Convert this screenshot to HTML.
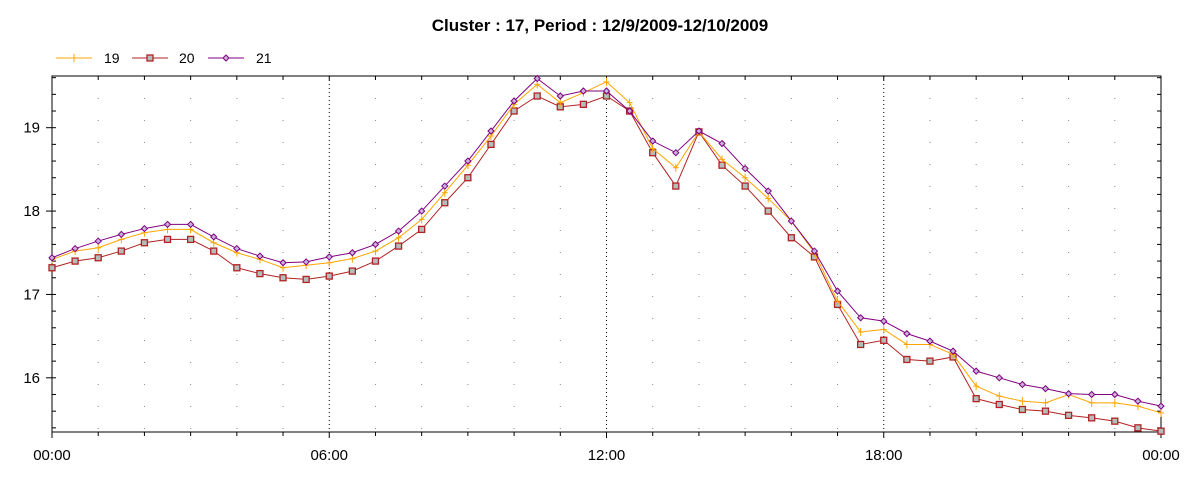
<!DOCTYPE html>
<html><head><meta charset="utf-8"><style>
body{margin:0;background:#fff;font-family:"Liberation Sans",Arial,sans-serif}
svg text{font-family:"Liberation Sans",Arial,sans-serif}
</style></head><body>
<svg id="chart" width="1200" height="480" xmlns="http://www.w3.org/2000/svg">
<text x="600" y="31" text-anchor="middle" font-size="17" font-weight="bold" fill="#000">Cluster : 17, Period : 12/9/2009-12/10/2009</text>
<g id="grid"></g>
<g id="axes"></g>
<g id="series"></g>
<g id="legend"></g>
</svg>
<script>
const hours = [0,0.5,1,1.5,2,2.5,3,3.5,4,4.5,5,5.5,6,6.5,7,7.5,8,8.5,9,9.5,10,10.5,11,11.5,12,12.5,13,13.5,14,14.5,15,15.5,16,16.5,17,17.5,18,18.5,19,19.5,20,20.5,21,21.5,22,22.5,23,23.5,24];
const s19 = [17.42,17.52,17.56,17.66,17.74,17.78,17.78,17.62,17.50,17.42,17.32,17.35,17.38,17.43,17.52,17.68,17.90,18.22,18.55,18.90,19.28,19.52,19.30,19.42,19.55,19.30,18.75,18.52,18.95,18.62,18.40,18.15,17.88,17.50,16.92,16.55,16.58,16.40,16.40,16.28,15.90,15.78,15.72,15.70,15.80,15.70,15.70,15.66,15.58];
const s20 = [17.32,17.40,17.44,17.52,17.62,17.66,17.66,17.52,17.32,17.25,17.20,17.18,17.22,17.28,17.40,17.58,17.78,18.10,18.40,18.80,19.20,19.38,19.25,19.28,19.38,19.20,18.70,18.30,18.95,18.55,18.30,18.00,17.68,17.45,16.88,16.40,16.45,16.22,16.20,16.25,15.75,15.68,15.62,15.60,15.55,15.52,15.48,15.40,15.36];
const s21 = [17.44,17.55,17.64,17.72,17.79,17.84,17.84,17.69,17.55,17.46,17.38,17.39,17.45,17.50,17.60,17.76,18.00,18.30,18.60,18.96,19.32,19.59,19.38,19.44,19.44,19.20,18.84,18.70,18.96,18.81,18.51,18.24,17.88,17.52,17.04,16.72,16.68,16.53,16.44,16.32,16.08,16.00,15.92,15.87,15.81,15.80,15.80,15.72,15.66];
const yTicks = [16,17,18,19];
const xTickLabels = ["00:00","06:00","12:00","18:00","00:00"];
const seriesNames = ["19","20","21"];

const NS="http://www.w3.org/2000/svg";
const L=52,R=1161,T=76,B=432, YMIN=15.35, YMAX=19.62;
const xs=h=>L+(R-L)*h/24;
const ys=v=>B-(B-T)*(v-YMIN)/(YMAX-YMIN);
function mk(tag,attrs,parent){const e=document.createElementNS(NS,tag);for(const k in attrs)e.setAttribute(k,attrs[k]);parent.appendChild(e);return e;}
const grid=document.getElementById('grid'),axes=document.getElementById('axes'),ser=document.getElementById('series'),leg=document.getElementById('legend');
for(let h=1;h<24;h++){
  const major=h%6===0;
  const g=mk('line',{x1:xs(h),x2:xs(h),y1:T,y2:B,stroke:major?'#000':'#888','stroke-dasharray':major?'1,3':'1,21'},grid);
  
  
}
const frame=mk('rect',{x:L,y:T,width:R-L,height:B-T,fill:'none',stroke:'#000','stroke-width':1},axes);


for(let v=15.4;v<=19.6;v+=0.2){
  const y=ys(v);const major=Math.abs(v-Math.round(v))<0.01;
  mk('line',{x1:major?L-6:L,x2:L+4,y1:y,y2:y,stroke:'#000'},axes);
  mk('line',{x1:R-4,x2:R,y1:y,y2:y,stroke:'#000'},axes);
}
yTicks.forEach(v=>{
  const t=mk('text',{x:L-12,y:ys(v)+5,'text-anchor':'end','font-size':15,fill:'#000'},axes);
  t.textContent=v;
  
  
});
for(let h=0;h<=24;h++){
  const major=h%6===0;
  mk('line',{x1:xs(h),x2:xs(h),y1:B,y2:B+(major?6:4),stroke:'#000'},axes);
  mk('line',{x1:xs(h),x2:xs(h),y1:T,y2:T+4,stroke:'#000'},axes);
}
xTickLabels.forEach((s,i)=>{
  const t=mk('text',{x:xs(i*6),y:460,'text-anchor':'middle','font-size':15,fill:'#000'},axes);
  t.textContent=s;
  
  
});
function marker(kind,x,y,p){
  if(kind==='plus'){mk('path',{d:`M${x-3},${y}h6M${x},${y-4}v8`,stroke:'#ffa500','stroke-width':1,fill:'none'},p);}
  else if(kind==='square'){mk('rect',{x:x-3,y:y-3,width:6,height:6,fill:'#b4bcbc',stroke:'#b22222','stroke-width':1.3},p);}
  else {mk('path',{d:`M${x},${y-3}L${x+3},${y}L${x},${y+3}L${x-3},${y}Z`,fill:'#c8b4d8',stroke:'#800080','stroke-width':1},p);}
}
const defs=[[s20,'#b22222','square','series-20'],[s19,'#ffa500','plus','series-19'],[s21,'#800080','diamond','series-21']];
defs.forEach(([vals,col,kind,name])=>{
  const g=mk('g',{},ser);
  
  
  mk('polyline',{points:vals.map((v,i)=>xs(hours[i])+','+ys(v)).join(' '),fill:'none',stroke:col,'stroke-width':1},g);
  vals.forEach((v,i)=>marker(kind,xs(hours[i]),ys(v),g));
});
const lg=[[0,'#ffa500','plus',56,104],[1,'#b22222','square',132,179],[2,'#800080','diamond',208,256]];
lg.forEach(([i,col,kind,x,tx])=>{
  const g=mk('g',{},leg);
  
  
  mk('line',{x1:x,x2:x+36,y1:58,y2:58,stroke:col},g);
  marker(kind,x+18,58,g);
  const t=mk('text',{x:tx,y:63,'font-size':14,fill:'#000'},g);
  t.textContent=seriesNames[i];
});
</script>
</body></html>
